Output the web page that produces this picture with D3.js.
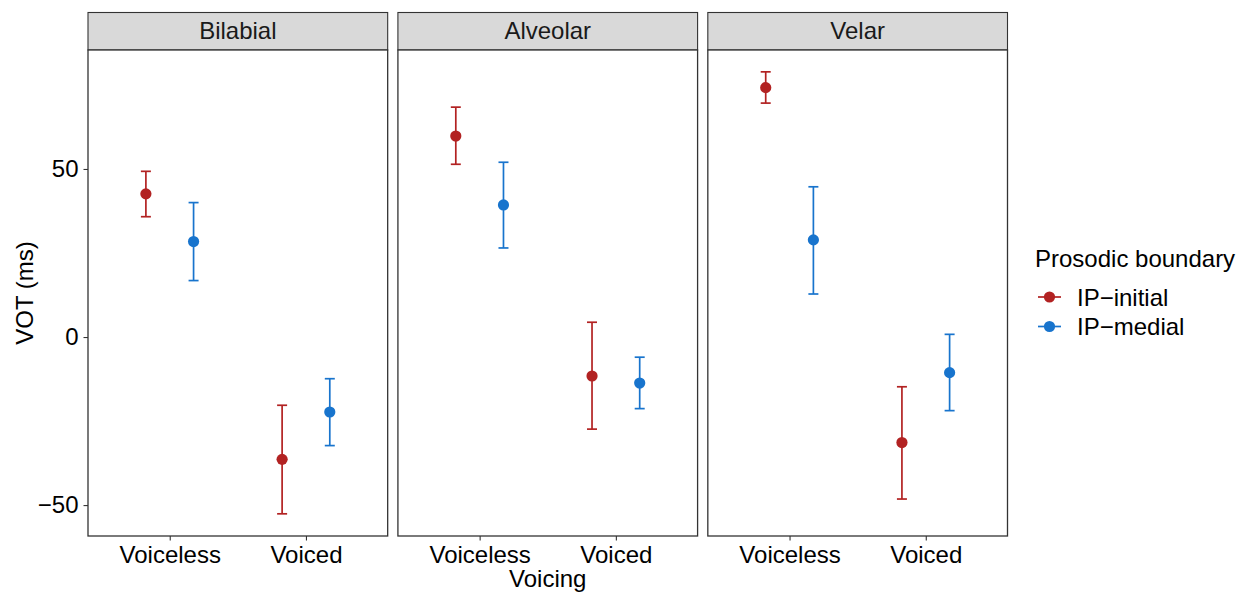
<!DOCTYPE html>
<html><head><meta charset="utf-8">
<script src="https://cdn.jsdelivr.net/npm/d3@7"></script>
<style>body{margin:0;background:#fff;}svg{display:block;font-family:"Liberation Sans",Arial,Helvetica,sans-serif;}</style>
</head><body>
<svg id="chart" width="1250" height="594"></svg>
<script>
const facets = ["Bilabial", "Alveolar", "Velar"];
const voicing = ["Voiceless", "Voiced"];
const groups = ["IP\u2212initial", "IP\u2212medial"];
const colors = ["#B22222", "#1874CD"];
const yTicks = [-50, 0, 50];
// values per facet: [Voiceless, Voiced]
const initMean = [[42.6, -36.4], [59.8, -11.6], [74.2, -31.4]];
const initLow  = [[35.8, -52.6], [51.4, -27.4], [69.6, -48.2]];
const initHigh = [[49.3, -20.3], [68.4, 4.4], [78.9, -14.8]];
const medMean  = [[28.4, -22.3], [39.3, -13.7], [28.9, -10.6]];
const medLow   = [[16.8, -32.3], [26.5, -21.3], [12.8, -21.9]];
const medHigh  = [[40.0, -12.4], [52.0, -6.0], [44.7, 0.8]];

(function () {
const data = [];
facets.forEach((f, fi) => voicing.forEach((v, vi) => {
  data.push({facet: f, voicing: v, group: 0, mean: initMean[fi][vi], lo: initLow[fi][vi], hi: initHigh[fi][vi]});
  data.push({facet: f, voicing: v, group: 1, mean: medMean[fi][vi], lo: medLow[fi][vi], hi: medHigh[fi][vi]});
}));

const svg = d3.select("#chart");
const pTop = 50, pBottom = 536, stripTop = 12.5;
const fx = d3.scaleBand().domain(facets).range([88, 1007.5]).paddingInner(0.033).paddingOuter(0);
const bw = fx.bandwidth();
const x = d3.scalePoint().domain(voicing).range([0, bw]).padding(0.6);
const step = x.step();
const dodge = d3.scalePoint().domain([0, 1]).range([-0.175 * step, 0.175 * step]);
const y = d3.scaleLinear().domain([-59.2, 85.4]).range([pBottom, pTop]);

facets.forEach((f, fi) => {
  const g = svg.append("g").attr("transform", `translate(${fx(f)},0)`);
  g.append("rect").attr("x", 0).attr("y", stripTop).attr("width", bw).attr("height", pTop - stripTop)
    .attr("fill", "#D9D9D9").attr("stroke", "#333333").attr("stroke-width", 1.1);
  g.append("text").attr("x", bw / 2).attr("y", 39).attr("text-anchor", "middle")
    .attr("font-size", 24).attr("fill", "#1A1A1A").text(f);
  g.append("rect").attr("x", 0).attr("y", pTop).attr("width", bw).attr("height", pBottom - pTop)
    .attr("fill", "#fff").attr("stroke", "#333333").attr("stroke-width", 1.3);
  const xa = g.append("g").attr("transform", `translate(0,${pBottom})`)
    .call(d3.axisBottom(x).tickSize(4.5).tickPadding(5));
  xa.select(".domain").remove();
  xa.selectAll(".tick line").attr("stroke", "#333333").attr("stroke-width", 1.1);
  xa.selectAll(".tick text").attr("font-size", 24).attr("fill", "#000")
    .attr("font-family", '"Liberation Sans",Arial,sans-serif');

  const pd = data.filter(d => d.facet === f);
  const px = d => x(d.voicing) + dodge(d.group);
  const eb = g.append("g");
  eb.selectAll(".v").data(pd).join("line")
    .attr("x1", px).attr("x2", px).attr("y1", d => y(d.lo)).attr("y2", d => y(d.hi))
    .attr("stroke", d => colors[d.group]).attr("stroke-width", 1.7);
  eb.selectAll(".t").data(pd).join("line")
    .attr("x1", d => px(d) - 5).attr("x2", d => px(d) + 5).attr("y1", d => y(d.hi)).attr("y2", d => y(d.hi))
    .attr("stroke", d => colors[d.group]).attr("stroke-width", 1.7);
  eb.selectAll(".b").data(pd).join("line")
    .attr("x1", d => px(d) - 5).attr("x2", d => px(d) + 5).attr("y1", d => y(d.lo)).attr("y2", d => y(d.lo))
    .attr("stroke", d => colors[d.group]).attr("stroke-width", 1.7);
  g.append("g").selectAll("circle").data(pd).join("circle")
    .attr("cx", px).attr("cy", d => y(d.mean)).attr("r", 5.6)
    .attr("fill", d => colors[d.group]);
});

const ya = svg.append("g").attr("transform", `translate(88,0)`)
  .call(d3.axisLeft(y).tickValues(yTicks).tickSize(4.5).tickPadding(5)
    .tickFormat(d => d < 0 ? "\u2212" + Math.abs(d) : d));
ya.select(".domain").remove();
ya.selectAll(".tick line").attr("stroke", "#333333").attr("stroke-width", 1.1);
ya.selectAll(".tick text").attr("font-size", 24).attr("fill", "#000")
  .attr("font-family", '"Liberation Sans",Arial,sans-serif');

svg.append("text").attr("transform", `translate(33,${(pTop + pBottom) / 2}) rotate(-90)`)
  .attr("text-anchor", "middle").attr("font-size", 24).attr("fill", "#000").text("VOT (ms)");
svg.append("text").attr("x", fx("Alveolar") + bw / 2).attr("y", 587)
  .attr("text-anchor", "middle").attr("font-size", 24).attr("fill", "#000").text("Voicing");

const lg = svg.append("g");
lg.append("text").attr("x", 1035).attr("y", 267).attr("font-size", 24).attr("fill", "#000").text("Prosodic boundary");
groups.forEach((gname, i) => {
  const cy = 297 + i * 29.5;
  lg.append("line").attr("x1", 1038).attr("x2", 1061).attr("y1", cy).attr("y2", cy)
    .attr("stroke", colors[i]).attr("stroke-width", 1.7);
  lg.append("circle").attr("cx", 1049.5).attr("cy", cy).attr("r", 5.6).attr("fill", colors[i]);
  lg.append("text").attr("x", 1077).attr("y", cy + 8.5).attr("font-size", 24).attr("fill", "#000").text(gname);
});
})();
</script>
</body></html>
